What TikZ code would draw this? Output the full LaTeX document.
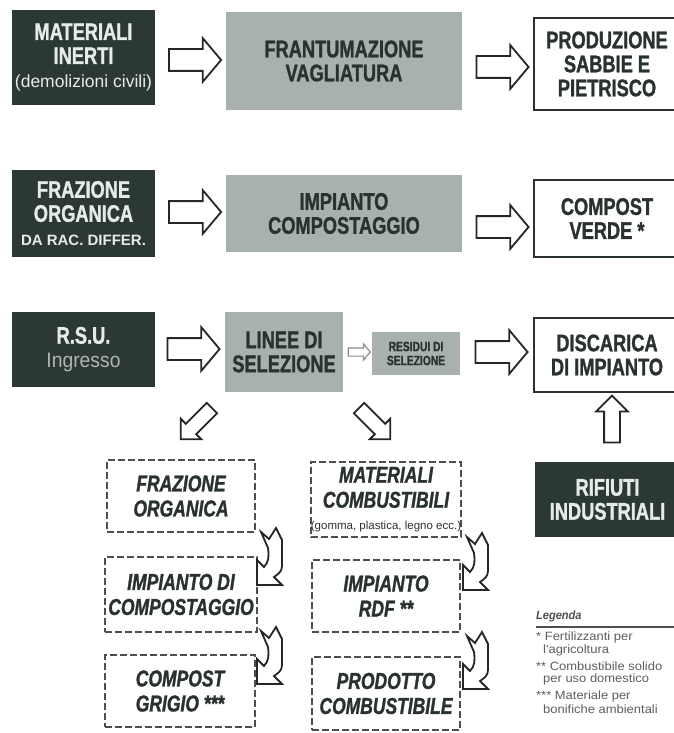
\documentclass[tikz,border=0pt]{standalone}
\usepackage{fontspec}
\setmainfont{Liberation Sans}
\newfontfamily\cnd{Liberation Sans}[FakeStretch=0.76, BoldFont={Liberation Sans Bold}, BoldItalicFont={Liberation Sans Bold Italic}, BoldFeatures={FakeBold=1.2}, BoldItalicFeatures={FakeBold=1.2}]
\newfontfamily\cndn{Liberation Sans}[FakeStretch=0.92]
\newfontfamily\wdn{Liberation Sans}[FakeStretch=1.08]
\usetikzlibrary{shapes.arrows,calc}
\definecolor{dk}{HTML}{2B3833}
\definecolor{lt}{HTML}{E6EBE9}
\definecolor{gr}{HTML}{A9B1AE}
\definecolor{gtx}{HTML}{2A3230}
\definecolor{dsh}{HTML}{4A504E}
\definecolor{lgd}{HTML}{5A605E}
\tikzset{
  box/.style={rectangle, inner sep=0pt, align=center, font=\cnd\bfseries\fontsize{24}{24}\selectfont},
  dbox/.style={box, fill=dk, text=lt},
  gbox/.style={box, fill=gr, text=gtx},
  wbox/.style={box, draw=gtx, line width=2pt, fill=white, text=gtx},
  dashbox/.style={box, draw=dsh, line width=1.5pt, dash pattern=on 7pt off 3pt, text=gtx, font=\cnd\bfseries\itshape\fontsize{23}{25}\selectfont},
  arrowline/.style={draw=black!85, line width=1.8pt, fill=white, line join=miter},
  harrow/.style={single arrow, arrowline, inner xsep=0pt, inner ysep=10pt, minimum height=52pt, single arrow head extend=11pt, single arrow tip angle=100, single arrow head indent=0pt},
  darrow/.style={single arrow, arrowline, inner xsep=0pt, inner ysep=6.5pt, minimum height=44pt, single arrow head extend=7pt, single arrow tip angle=90, single arrow head indent=0pt},
  sarrow/.style={single arrow, draw=black!45, line width=1.2pt, fill=white, inner xsep=0pt, inner ysep=3.5pt, minimum height=22pt, single arrow head extend=4pt, single arrow tip angle=100},
  lgdtext/.style={anchor=west, inner sep=0pt, text=lgd, font=\wdn\fontsize{12}{12}\selectfont},
  bendarrow/.pic={\draw[arrowline] (4,4) -- (12,11) -- (19,0) -- (25,12) -- (25,38) .. controls (25,44) and (21,46) .. (17,49) -- (25,57) -- (0,57) -- (0,32) -- (7,39) .. controls (12,34) and (12,28) .. (11,20) -- cycle;}
}
\begin{document}
\begin{tikzpicture}[x=1pt,y=-1pt]
\useasboundingbox[fill=white] (0,0) rectangle (674,733);

% Row 1
\node[dbox, minimum width=143pt, minimum height=95pt] (in1) at (83.5,57.5)
  {MATERIALI\\INERTI\\{\mdseries\fontsize{17.5}{19}\selectfont\rmfamily(demolizioni civili)}};
\node[gbox, minimum width=236pt, minimum height=98pt] (fr1) at (344,61) {FRANTUMAZIONE\\VAGLIATURA};
\node[wbox, minimum width=146pt, minimum height=92pt] (out1) at (607,64) {PRODUZIONE\\SABBIE E\\PIETRISCO};
\node[harrow] (a11) at (190.5,60) {};
\node[harrow] (a12) at (498,67) {};

% Row 2
\node[dbox, minimum width=143pt, minimum height=87pt] (in2) at (83.5,213.5)
  {FRAZIONE\\ORGANICA\\{\fontsize{15}{16}\selectfont\rmfamily\bfseries DA RAC. DIFFER.}};
\node[gbox, minimum width=236pt, minimum height=77pt] (fr2) at (344,213.5) {IMPIANTO\\COMPOSTAGGIO};
\node[wbox, minimum width=146pt, minimum height=77pt] (out2) at (607,218.5) {COMPOST\\VERDE *};
\node[harrow] (a21) at (190.5,212) {};
\node[harrow] (a22) at (498,227) {};

% Row 3
\node[dbox, minimum width=143pt, minimum height=75pt] (in3) at (83.5,349.5)
  {R.S.U.\\{\mdseries\fontsize{21}{22}\selectfont\cndn\color{lt!70!dk}Ingresso}};
\node[gbox, minimum width=118pt, minimum height=80pt] (sel) at (284,352) {LINEE DI\\SELEZIONE};
\node[gbox, minimum width=88pt, minimum height=43pt, font=\cnd\bfseries\fontsize{13.5}{14}\selectfont] (res) at (416,353.5) {RESIDUI DI\\SELEZIONE};
\node[wbox, minimum width=146pt, minimum height=74pt] (out3) at (607,355) {DISCARICA\\DI IMPIANTO};
\node[harrow] (a31) at (189,349) {};
\node[sarrow] (a32) at (357.5,352) {};
\node[harrow] (a33) at (497,352) {};

% diagonal / vertical arrows
\node[darrow, rotate=-135] (dl) at (199,421) {};
\node[darrow, rotate=-45] (dr) at (372,421) {};
\node[darrow, rotate=90, minimum height=47pt, inner ysep=7pt, single arrow head extend=8pt] (up) at (612,423) {};

% Industrial waste
\node[dbox, minimum width=145pt, minimum height=75pt] (ind) at (607.5,499.5) {RIFIUTI\\INDUSTRIALI};

% Left column
\node[dashbox, minimum width=148pt, minimum height=72pt] (fo) at (181,496) {FRAZIONE\\ORGANICA};
\node[dashbox, minimum width=152pt, minimum height=75pt] (ic) at (181,594.5) {IMPIANTO DI\\COMPOSTAGGIO};
\node[dashbox, minimum width=150pt, minimum height=72pt] (cg) at (180,691) {COMPOST\\GRIGIO ***};

% Right column
\node[dashbox, minimum width=148pt, minimum height=75pt] (mc) at (386,499.5)
  {MATERIALI\\COMBUSTIBILI\\[-3pt]{\mdseries\upshape\rmfamily\fontsize{11.5}{12}\selectfont(gomma, plastica, legno ecc.)}};
\node[dashbox, minimum width=148pt, minimum height=72pt] (rdf) at (386,596) {IMPIANTO\\RDF **};
\node[dashbox, minimum width=148pt, minimum height=73pt] (pc) at (386,693.5) {PRODOTTO\\COMBUSTIBILE};

% bent arrows
\pic at (257,528) {bendarrow};
\pic at (257,627) {bendarrow};
\pic at (463,533) {bendarrow};
\pic at (463,632) {bendarrow};

% Legend
\node[anchor=west, inner sep=0pt, text=gtx!85, font=\cndn\bfseries\itshape\fontsize{12}{13}\selectfont] (lg) at (536,616) {Legenda};
\coordinate (lgl) at (536,627);
\coordinate (lgr) at (674,627);
\draw[line width=1.3pt, gtx!85] (lgl) -- (lgr);
\node[lgdtext] (l1) at (536,637) {* Fertilizzanti per};
\node[lgdtext] (l2) at (543,650) {l'agricoltura};
\node[lgdtext] (l3) at (536,666.5) {** Combustibile solido};
\node[lgdtext] (l4) at (543,679.5) {per uso domestico};
\node[lgdtext] (l5) at (536,696) {*** Materiale per};
\node[lgdtext] (l6) at (543,709) {bonifiche ambientali};
\end{tikzpicture}
\end{document}
